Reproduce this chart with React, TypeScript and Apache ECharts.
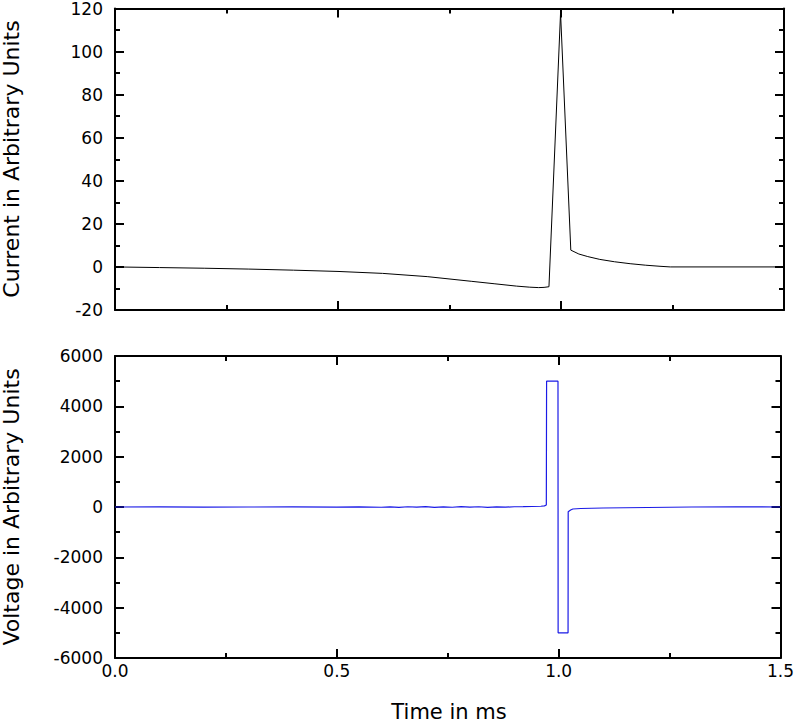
import React, { useEffect, useRef } from "react";
import * as echarts from "echarts";

// Current trace (top panel)
const currentTime = [0, 0.1, 0.2, 0.3, 0.4, 0.5, 0.6, 0.7, 0.8, 0.85, 0.9, 0.93, 0.95, 0.962, 0.973, 0.999, 1.022, 1.04, 1.06, 1.087, 1.12, 1.155, 1.19, 1.222, 1.245, 1.5];
const currentValue = [0, -0.3, -0.6, -1.0, -1.5, -2.1, -3.0, -4.5, -6.7, -7.8, -8.9, -9.4, -9.6, -9.5, -9.2, 118, 7.8, 6.0, 4.8, 3.5, 2.4, 1.5, 0.8, 0.3, 0, 0];

// Voltage trace (bottom panel)
const voltageTime = [0, 0.1, 0.2, 0.3, 0.4, 0.5, 0.55, 0.6, 0.62, 0.64, 0.66, 0.68, 0.7, 0.72, 0.74, 0.76, 0.78, 0.8, 0.82, 0.84, 0.86, 0.88, 0.9, 0.92, 0.94, 0.96, 0.968, 0.9722, 0.9728, 0.9985, 0.9988, 1.0212, 1.0215, 1.027, 1.032, 1.05, 1.1, 1.2, 1.3, 1.4, 1.5];
const voltageValue = [0, 3, -3, 0, 4, -4, 6, -10, 8, -12, 10, -8, 12, -15, 6, -10, 12, -8, 10, -14, 8, -6, 10, 14, 20, 30, 45, 80, 5000, 5000, -5000, -5000, -190, -120, -80, -60, -40, -20, 0, 8, 0];

// Axis ticks
const timeTicks = { min: 0, max: 1.5, interval: 0.5 };
const currentTicks = { min: -20, max: 120, interval: 20 };
const voltageTicks = { min: -6000, max: 6000, interval: 2000 };

const FONT = "DejaVu Sans";

function xAxisCfg(gridIndex: number, position: "top" | "bottom", showLabel: boolean) {
  return {
    type: "value",
    gridIndex,
    position,
    ...timeTicks,
    axisLine: { show: true, onZero: false, lineStyle: { color: "#000", width: 2 } },
    axisTick: { show: true, inside: true, length: 9, lineStyle: { color: "#000", width: 2 } },
    minorTick: { show: true, splitNumber: 2, length: 5, lineStyle: { color: "#000", width: 2 } },
    splitLine: { show: false },
    axisLabel: {
      show: showLabel,
      margin: 4,
      color: "#000",
      fontSize: 17,
      fontFamily: FONT,
      formatter: (v: number) => v.toFixed(1),
    },
  };
}

function yAxisCfg(gridIndex: number, position: "left" | "right", showLabel: boolean, ticks: any) {
  return {
    type: "value",
    gridIndex,
    position,
    ...ticks,
    axisLine: { show: true, onZero: false, lineStyle: { color: "#000", width: 2 } },
    axisTick: { show: true, inside: true, length: 9, lineStyle: { color: "#000", width: 2 } },
    minorTick: { show: true, splitNumber: 2, length: 5, lineStyle: { color: "#000", width: 2 } },
    splitLine: { show: false },
    axisLabel: {
      show: showLabel,
      margin: 12,
      color: "#000",
      fontSize: 17,
      fontFamily: FONT,
      formatter: (v: number) => String(v),
    },
  };
}

export default function App() {
  const ref = useRef<HTMLDivElement>(null);
  useEffect(() => {
    if (!ref.current) return;
    const chart = echarts.init(ref.current, undefined, { renderer: "svg" });
    const currentData = currentTime.map((t, i) => [t, currentValue[i]]);
    const voltageData = voltageTime.map((t, i) => [t, voltageValue[i]]);
    chart.setOption({
      animation: false,
      backgroundColor: "#fff",
      grid: [
        { left: 115, top: 8, width: 669, height: 302 },
        { left: 115, top: 356, width: 669, height: 302 },
      ],
      xAxis: [
        xAxisCfg(0, "bottom", false),
        xAxisCfg(0, "top", false),
        xAxisCfg(1, "bottom", true),
        xAxisCfg(1, "top", false),
      ],
      yAxis: [
        yAxisCfg(0, "left", true, currentTicks),
        yAxisCfg(0, "right", false, currentTicks),
        yAxisCfg(1, "left", true, voltageTicks),
        yAxisCfg(1, "right", false, voltageTicks),
      ],
      series: [
        {
          type: "line",
          xAxisIndex: 0,
          yAxisIndex: 0,
          data: currentData,
          showSymbol: false,
          lineStyle: { color: "#000", width: 1 },
        },
        {
          type: "line",
          xAxisIndex: 2,
          yAxisIndex: 2,
          data: voltageData,
          showSymbol: false,
          lineStyle: { color: "#1a1ae6", width: 1.2 },
        },
      ],
      graphic: [
        {
          type: "text",
          x: 11,
          y: 159,
          rotation: Math.PI / 2,
          style: {
            text: "Current in Arbitrary Units",
            fontSize: 22,
            fontFamily: FONT,
            fill: "#000",
            textAlign: "center",
            textVerticalAlign: "middle",
          },
        },
        {
          type: "text",
          x: 11,
          y: 507,
          rotation: Math.PI / 2,
          style: {
            text: "Voltage in Arbitrary Units",
            fontSize: 22,
            fontFamily: FONT,
            fill: "#000",
            textAlign: "center",
            textVerticalAlign: "middle",
          },
        },
        {
          type: "text",
          x: 449,
          y: 712,
          style: {
            text: "Time in ms",
            fontSize: 21,
            fontFamily: FONT,
            fill: "#000",
            textAlign: "center",
            textVerticalAlign: "middle",
          },
        },
      ],
    });
    return () => chart.dispose();
  }, []);
  return (
    <div
      ref={ref}
      style={{ position: "absolute", left: 0, top: 0, width: 797, height: 723 }}
    />
  );
}
